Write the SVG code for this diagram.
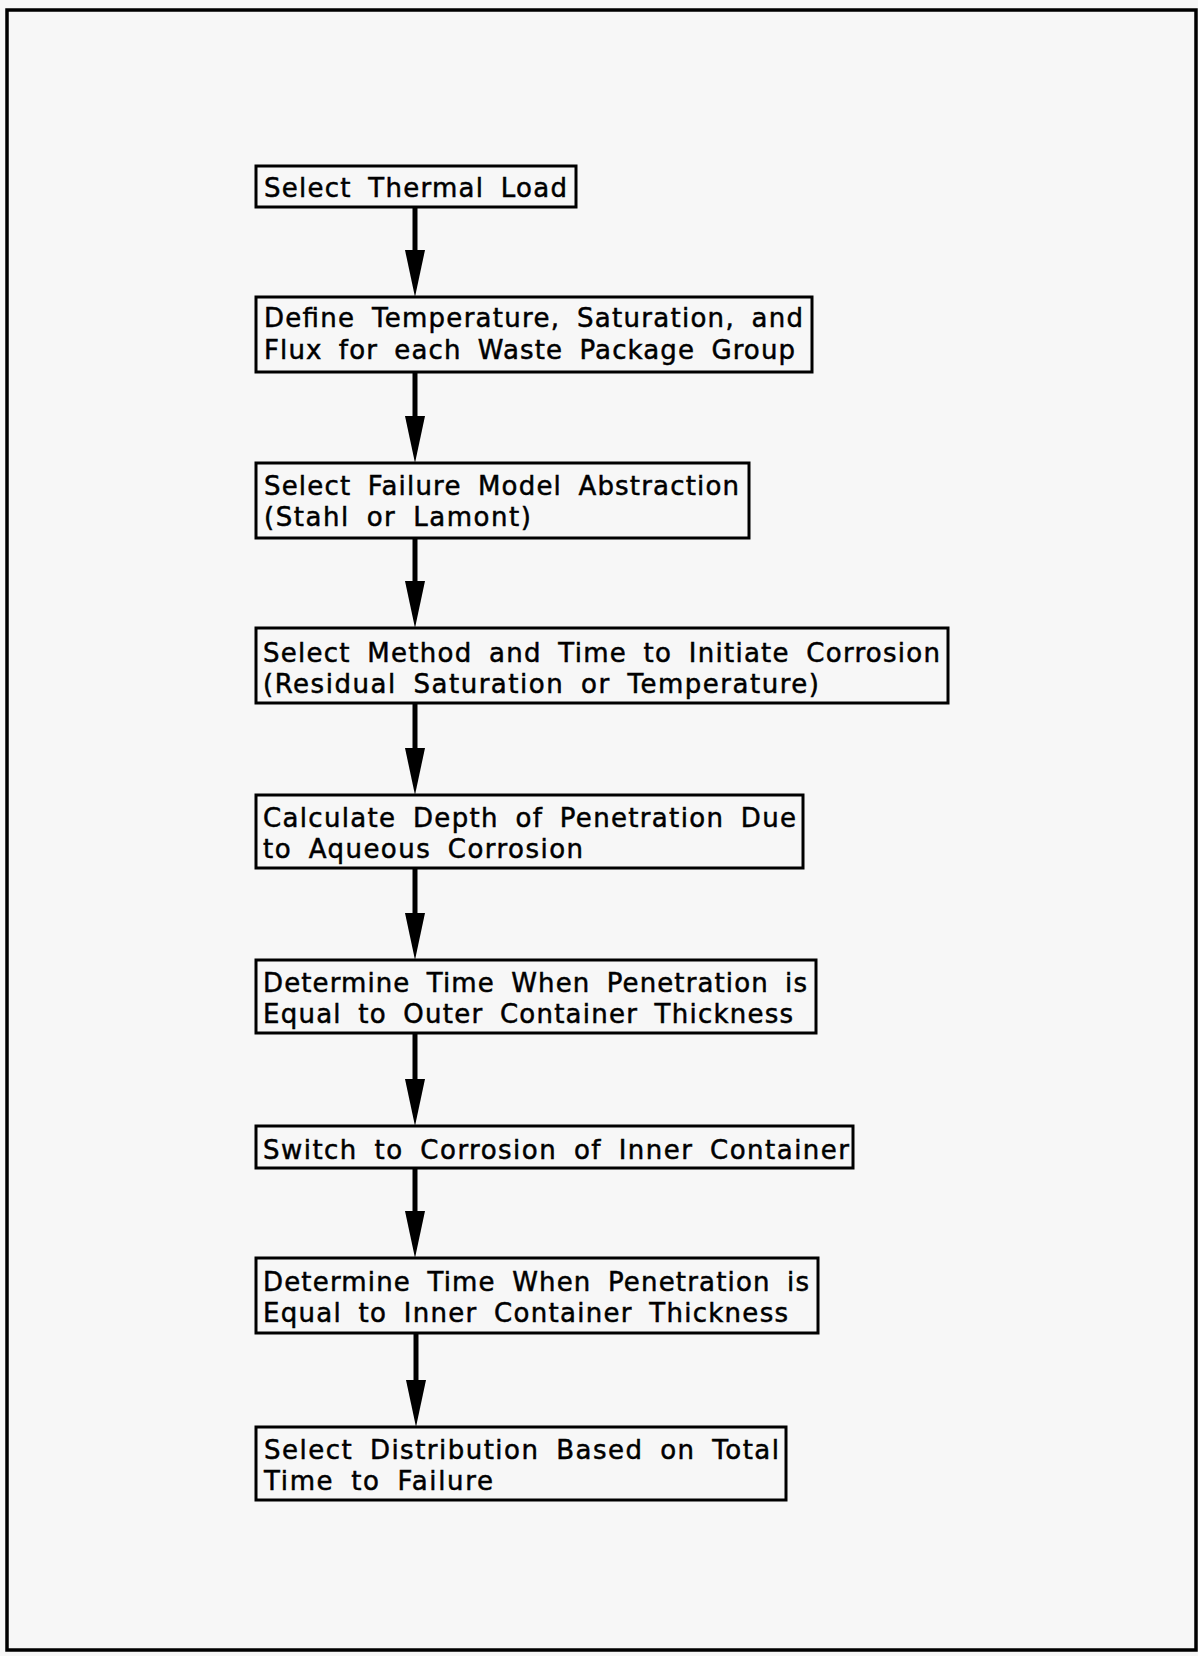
<svg xmlns="http://www.w3.org/2000/svg" width="1198" height="1656" viewBox="0 0 1198 1656">
<style>
.bg{fill:#f7f7f7}
.frame{fill:none;stroke:#000;stroke-width:3.5}
.box{fill:#f7f7f7;stroke:#000;stroke-width:3}
.t{font-family:"DejaVu Sans","Liberation Sans",sans-serif;font-size:26px;word-spacing:7px;fill:#000;stroke:#000;stroke-width:0.5}
.conn{stroke:#000;stroke-width:5;fill:none}
</style>
<defs>
<marker id="ah" markerUnits="userSpaceOnUse" viewBox="0 0 47 20" refX="0" refY="10" markerWidth="47" markerHeight="20" orient="auto">
<path d="M0,0 L47,10 L0,20 z" fill="#000"/>
</marker>
</defs>
<rect class="bg" x="0" y="0" width="1198" height="1656"/>
<rect class="frame" x="7" y="10" width="1189" height="1640"/>
<g id="connectors">
<line class="conn" x1="415" y1="207" x2="415" y2="250" marker-end="url(#ah)"/>
<line class="conn" x1="415" y1="372" x2="415" y2="416" marker-end="url(#ah)"/>
<line class="conn" x1="415" y1="538" x2="415" y2="581" marker-end="url(#ah)"/>
<line class="conn" x1="415" y1="703" x2="415" y2="748" marker-end="url(#ah)"/>
<line class="conn" x1="415" y1="868" x2="415" y2="913" marker-end="url(#ah)"/>
<line class="conn" x1="415" y1="1033" x2="415" y2="1079" marker-end="url(#ah)"/>
<line class="conn" x1="415" y1="1168" x2="415" y2="1211" marker-end="url(#ah)"/>
<line class="conn" x1="416" y1="1333" x2="416" y2="1380" marker-end="url(#ah)"/>
</g>
<g id="n1">
<rect class="box" x="256" y="166" width="320" height="41"/>
<text class="t" x="264" y="197" textLength="303" lengthAdjust="spacing">Select Thermal Load</text>
</g>
<g id="n2">
<rect class="box" x="256" y="297" width="556" height="75"/>
<text class="t" x="264" y="327" textLength="539" lengthAdjust="spacing">Define Temperature, Saturation, and</text>
<text class="t" x="264" y="359" textLength="531" lengthAdjust="spacing">Flux for each Waste Package Group</text>
</g>
<g id="n3">
<rect class="box" x="256" y="463" width="493" height="75"/>
<text class="t" x="264" y="495" textLength="475" lengthAdjust="spacing">Select Failure Model Abstraction</text>
<text class="t" x="264" y="526" textLength="267" lengthAdjust="spacing">(Stahl or Lamont)</text>
</g>
<g id="n4">
<rect class="box" x="256" y="628" width="692" height="75"/>
<text class="t" x="263" y="662" textLength="677" lengthAdjust="spacing">Select Method and Time to Initiate Corrosion</text>
<text class="t" x="263" y="693" textLength="556" lengthAdjust="spacing">(Residual Saturation or Temperature)</text>
</g>
<g id="n5">
<rect class="box" x="256" y="795" width="547" height="73"/>
<text class="t" x="263" y="827" textLength="533" lengthAdjust="spacing">Calculate Depth of Penetration Due</text>
<text class="t" x="263" y="858" textLength="320" lengthAdjust="spacing">to Aqueous Corrosion</text>
</g>
<g id="n6">
<rect class="box" x="256" y="960" width="560" height="73"/>
<text class="t" x="263" y="992" textLength="544" lengthAdjust="spacing">Determine Time When Penetration is</text>
<text class="t" x="263" y="1023" textLength="530" lengthAdjust="spacing">Equal to Outer Container Thickness</text>
</g>
<g id="n7">
<rect class="box" x="256" y="1126" width="597" height="42"/>
<text class="t" x="263" y="1159" textLength="586" lengthAdjust="spacing">Switch to Corrosion of Inner Container</text>
</g>
<g id="n8">
<rect class="box" x="256" y="1258" width="562" height="75"/>
<text class="t" x="263" y="1291" textLength="546" lengthAdjust="spacing">Determine Time When Penetration is</text>
<text class="t" x="263" y="1322" textLength="525" lengthAdjust="spacing">Equal to Inner Container Thickness</text>
</g>
<g id="n9">
<rect class="box" x="256" y="1427" width="530" height="73"/>
<text class="t" x="264" y="1459" textLength="515" lengthAdjust="spacing">Select Distribution Based on Total</text>
<text class="t" x="264" y="1490" textLength="229" lengthAdjust="spacing">Time to Failure</text>
</g>
</svg>
